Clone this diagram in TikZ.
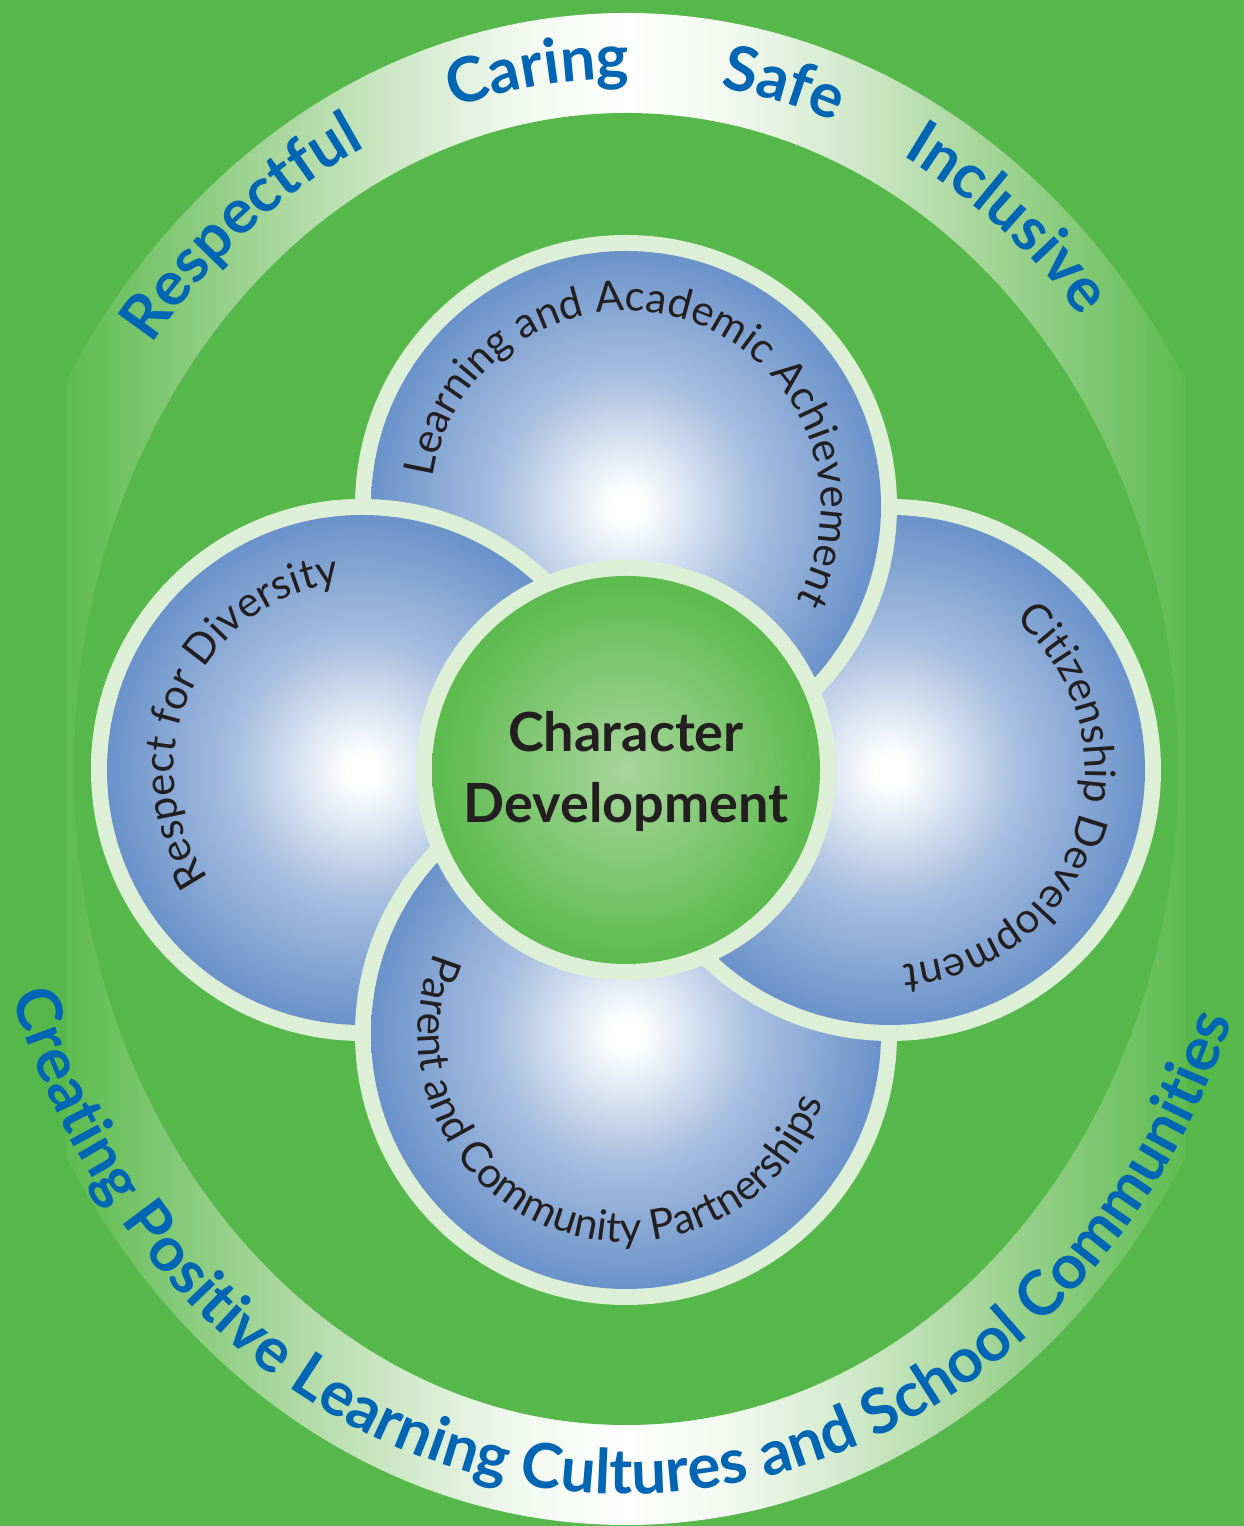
\documentclass[tikz,border=0pt]{standalone}
\usepackage{fontspec}
\setmainfont{Lato}
\usetikzlibrary{decorations.text}
\definecolor{bg}{HTML}{56B84A}
\definecolor{ringc}{HTML}{DDEFD6}
\definecolor{blueedge}{HTML}{6A92CA}
\definecolor{bluetxt}{HTML}{0066B3}
\definecolor{inktxt}{HTML}{231F20}
\definecolor{gcen}{HTML}{A8D69B}
\definecolor{gedge}{HTML}{5CBA4E}
\definecolor{bA}{HTML}{5EBB51}
\definecolor{bB}{HTML}{7BC66E}
\definecolor{bC}{HTML}{B0DAA5}
\definecolor{bD}{HTML}{D6ECD0}
\definecolor{bE}{HTML}{F2F8F0}
\pgfdeclareradialshading{bluesph}{\pgfpoint{0bp}{0bp}}{color(0bp)=(white); color(1.5bp)=(white); color(12.5bp)=(white!42!blueedge); color(25bp)=(blueedge); color(50bp)=(blueedge)}
\pgfdeclareradialshading{greensph}{\pgfpoint{0bp}{0bp}}{color(0bp)=(gcen); color(25bp)=(gedge); color(50bp)=(gedge)}
\pgfdeclarehorizontalshading{bandsh}{100bp}{color(0bp)=(bA); color(25bp)=(bA); color(28.75bp)=(bB); color(35.45bp)=(bC); color(40.8bp)=(bD); color(45.3bp)=(bE); color(50bp)=(white); color(54.7bp)=(bE); color(59.2bp)=(bD); color(64.55bp)=(bC); color(71.25bp)=(bB); color(75bp)=(bA); color(100bp)=(bA)}
\newcommand\ctxt{\fontsize{42}{50}\selectfont}
\newcommand\btxt{\bfseries\fontsize{62}{74}\selectfont}
\begin{document}
\begin{tikzpicture}[x=1pt,y=1pt,
  ringfill/.style={fill=ringc},
  sphere/.style={shading=bluesph},
  circtext/.style={decorate, decoration={text along path, text align=center, text color=inktxt, text={|\ctxt|#1}}},
  bandtext/.style={decorate, decoration={text along path, text align=center, text color=bluetxt, text={|\btxt|#1}}}]
\useasboundingbox (0,0) rectangle (1244,1526);
\fill[bg] (0,0) rectangle (1244,1526);
\coordinate (cE) at (626,757);
\coordinate (cC) at (626,756);
\coordinate (cT) at (626,1020);
\coordinate (cB) at (626,492);
\coordinate (cL) at (362,756);
\coordinate (cR) at (890,756);
% band
\begin{scope}
\clip (cE) ellipse [x radius=652, y radius=756];
\shade[shading=bandsh] (66,0) rectangle (1186,1526);
\end{scope}
\fill[bg] (cE) ellipse [x radius=552, y radius=656];
% blue circles
\foreach \c in {cL,cB,cR,cT} {
  \fill[ringfill] (\c) circle (271);
  \shade[sphere] (\c) circle (255);
}
\begin{scope}
\clip (0,745) rectangle (1244,1526);
\fill[ringfill] (cL) circle (271);
\shade[sphere] (cL) circle (255);
\end{scope}
% centre
\fill[ringfill] (cC) circle (210);
\shade[shading=greensph] (cC) circle (194);
\node[anchor=base, font=\bfseries\fontsize{54}{60}\selectfont, text=inktxt] (t1) at (626,774) {Character};
\node[anchor=base, font=\bfseries\fontsize{54}{60}\selectfont, text=inktxt] (t2) at (626,703) {Development};
% circle texts
\path[circtext={Learning and Academic Achievement}] (cT) ++(211.5:195) arc[start angle=211.5, end angle=-68.5, radius=195];
\path[circtext={Citizenship Development}] (cR) ++(122:195) arc[start angle=122, end angle=-158, radius=195];
\path[circtext={Respect for Diversity}] (cL) ++(256:188) arc[start angle=256, end angle=56, radius=188];
\path[circtext={Parent and Community Partnerships}] (cB) ++(109:208) arc[start angle=109, end angle=389, radius=208];
% band texts
\foreach \w/\t in {Respectful/128.5, Caring/98, Safe/75.6, Inclusive/52.2} {
  \path[bandtext=\w] (cE) ++({602*cos(\t+22)},{690*sin(\t+22)}) arc[start angle=\t+22, end angle=\t-22, x radius=602, y radius=690];
}
\path[bandtext={Creating Positive Learning Cultures and School Communities}] (cE) ++({646*cos(170)},{725*sin(170)}) arc[start angle=170, end angle=368, x radius=646, y radius=725];
\end{tikzpicture}
\end{document}
